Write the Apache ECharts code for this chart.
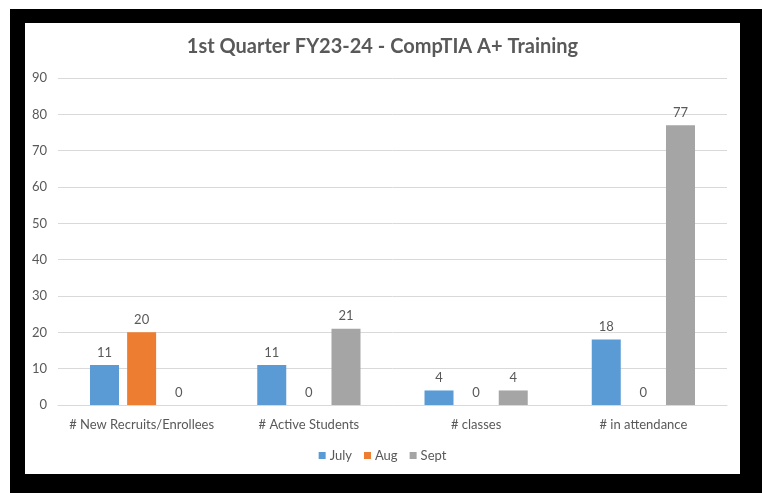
<!DOCTYPE html>
<html>
<head>
<meta charset="utf-8">
<script src="https://cdn.jsdelivr.net/npm/echarts@6/dist/echarts.min.js"></script>
<style>
	html, body { margin: 0; padding: 0; background: #fff; }
	#frame { position: absolute; left: 10px; top: 9px; width: 752px; height: 484px; background: #000; }
	#chart { position: absolute; left: 25px; top: 23px; width: 715px; height: 451px; background: #fff; }
</style>
</head>
<body>
<div id="frame"></div>
<div id="chart"></div>
<script>
	// Chart data
	const categories = ['# New Recruits/Enrollees', '# Active Students', '# classes', '# in attendance'];
	const july = [11, 11, 4, 18];
	const aug = [20, 0, 0, 0];
	const sept = [0, 21, 4, 77];

	const color = ['#5B9BD5', '#ED7D31', '#A5A5A5'];
	const textColor = '#595959';
	const font = 'Lato, "Open Sans", sans-serif';

	function makeSeries(name, data) {
		return {
			name,
			type: 'bar',
			data,
			barWidth: 29,
			barGap: '28%',
			label: {
				show: true,
				position: 'top',
				distance: 6,
				color: textColor,
				fontSize: 13,
				fontFamily: font,
			},
		};
	}

	const chart = echarts.init(document.getElementById('chart'));
	chart.setOption({
		animation: false,
		color,
		title: {
			text: '1st Quarter FY23-24 - CompTIA A+ Training',
			left: 'center',
			top: 9,
			textStyle: { color: textColor, fontSize: 20, fontWeight: 'bold', fontFamily: font },
		},
		legend: {
			bottom: 7,
			left: 'center',
			itemWidth: 7,
			itemHeight: 7,
			itemGap: 12,
			icon: 'rect',
			textStyle: { color: textColor, fontSize: 13, fontFamily: font, padding: [0, 0, 0, -1] },
		},
		grid: { left: 33, right: 13, top: 55, bottom: 69 },
		xAxis: {
			type: 'category',
			data: categories,
			axisTick: { show: false },
			axisLine: { lineStyle: { color: '#D9D9D9' } },
			axisLabel: { color: textColor, fontSize: 13, fontFamily: font, margin: 13, interval: 0 },
		},
		yAxis: {
			type: 'value',
			min: 0,
			max: 90,
			interval: 10,
			axisLine: { show: false },
			axisTick: { show: false },
			splitLine: { lineStyle: { color: '#D9D9D9' } },
			axisLabel: { color: textColor, fontSize: 13, fontFamily: font, margin: 11 },
		},
		series: [
			makeSeries('July', july),
			makeSeries('Aug', aug),
			makeSeries('Sept', sept),
		],
	});
</script>
</body>
</html>
